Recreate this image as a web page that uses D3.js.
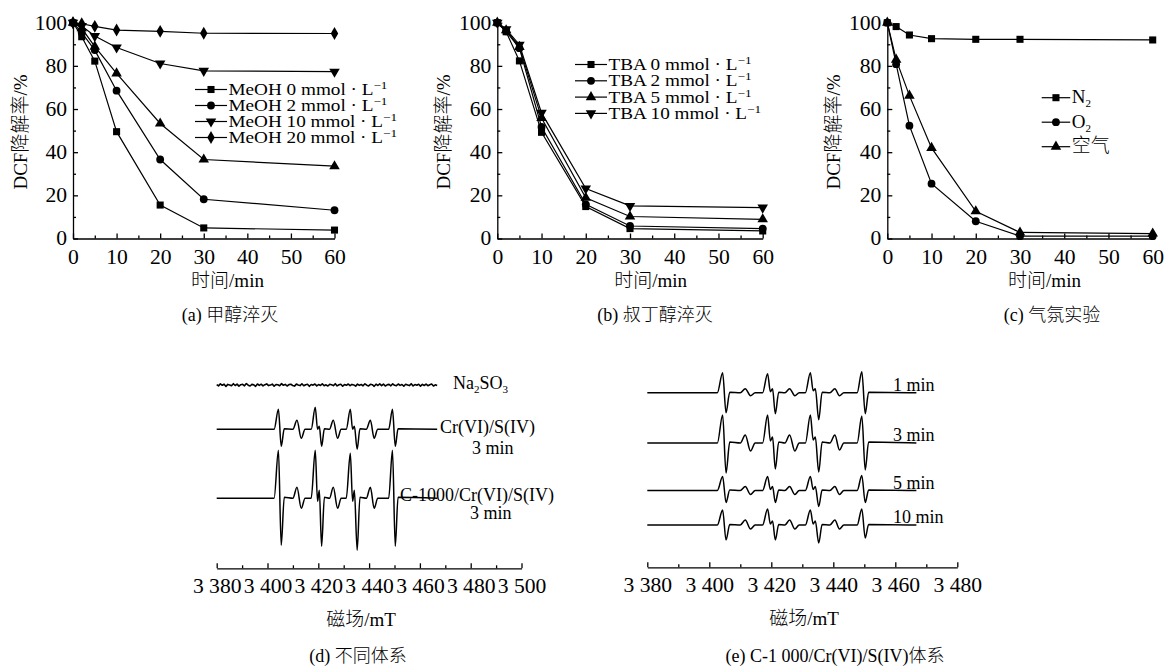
<!doctype html>
<html>
<head>
<meta charset="utf-8">
<style>
  body { margin: 0; background: #fff; }
  svg { display: block; }
  text { font-family: "Liberation Serif", "Noto Sans CJK SC", serif; fill: #000; font-weight: 300; }
  .axis path, .axis line { stroke: #000; stroke-width: 1.3; }
  .axis text { font-size: 20px; font-family: "Liberation Serif", serif; }
</style>
</head>
<body>
<svg id="fig" width="1165" height="668"></svg>
<script src="https://cdn.jsdelivr.net/npm/d3@7"></script>
<script>
// ---- data: degradation kinetics (time in min, DCF removal %) ----
var times = [0, 2, 5, 10, 20, 30, 60];

var meoh0  = [100, 93.5, 82.2, 49.5, 15.5, 4.9, 3.9];
var meoh2  = [100, 95.4, 87.3, 68.5, 36.6, 18.2, 13.1];
var meohX  = [100, 97.4, 88.9, 76.5, 53.3, 36.6, 33.5];   // up-triangle series, no legend entry
var meoh10 = [100, 98.5, 93.8, 88.5, 81.1, 77.7, 77.3];
var meoh20 = [100, 99.5, 98.3, 96.6, 96.0, 95.1, 95.0];
var meohLabels = ["MeOH 0 mmol · L", "MeOH 2 mmol · L", "MeOH 10 mmol · L", "MeOH 20 mmol · L"];

var tba0  = [100, 95.8, 82.3, 49.2, 14.8, 4.6, 3.5];
var tba2  = [100, 96.0, 88.2, 51.7, 15.8, 5.8, 4.6];
var tba5  = [100, 96.5, 88.8, 55.8, 18.9, 10.2, 8.9];
var tba10 = [100, 97.0, 89.8, 58.2, 23.2, 15.1, 14.3];
var tbaLabels = ["TBA 0 mmol · L", "TBA 2 mmol · L", "TBA 5 mmol · L", "TBA 10 mmol · L"];

var n2  = [100, 98.2, 94.3, 92.6, 92.3, 92.3, 92.0];
var o2  = [100, 80.8, 52.3, 25.4, 8.0, 1.1, 1.1];
var air = [100, 82.9, 66.2, 42.0, 12.6, 2.8, 2.3];

var timeTicks = [0, 10, 20, 30, 40, 50, 60];
var rateTicks = [0, 20, 40, 60, 80, 100];

// ---- data: EPR spectra (field in mT, intensity in a.u.) ----
var eprField = [
  3380, 3402.6, 3404.3, 3405.4, 3406.6,
  3410.0, 3411.6, 3413.3, 3414.8,
  3417.2, 3418.8, 3419.7, 3420.4, 3421.3, 3422.4,
  3424.4, 3425.9, 3427.6, 3429.0,
  3431.0, 3432.6, 3433.5, 3434.2, 3435.3, 3436.4,
  3438.9, 3440.5, 3442.0, 3443.4,
  3447.7, 3449.2, 3450.3, 3451.4, 3466.8
];
var eprCr    = [0, 0, 20, -17, 0.5, 0, 9, -9, 0, 0, 22, 0, 3, -17, 0.5, 0, 9, -9, 0, 0, 20, 0, 3, -20, 0.5, 0, 9, -9, 0, 0, 20, -17, 0.5, 0];
var eprC1000 = [0, 0, 48, -47, 1, 0, 11, -10, 0, 0, 48, -3, 8, -48, 1, 0, 11, -10, 0, 0, 45, -3, 8, -52, 1, 0, 11, -10, 0, 0, 48, -48, 1, 0];
var eprMin1  = [0, 0, 20, -20, 0.5, 0, 4, -3, 0, 0, 19, 1, 4, -21, 0.5, 0, 4, -3, 0, 0, 20, 2, 4, -27, 0.5, 0, 4, -3, 0, 0, 21, -21, 0.5, 0];
var eprMin3  = [0, 0, 28, -30, 1, 0, 8, -8, 0, 0, 28, 2, 6, -26, 1, 0, 8, -8, 0, 0, 28, 3, 6, -29, 1, 0, 8, -7, 0, 0, 27, -27, 1, 0];
var eprMin5  = [0, 0, 14, -12, 0.5, 0, 4, -4, 0, 0, 14, 1, 4, -12, 0.5, 0, 4, -4, 0, 0, 14, 1, 4, -16, 0.5, 0, 4, -4, 0, 0, 15, -12, 0.5, 0];
var eprMin10 = [0, 0, 15, -15, 0.5, 0, 5, -4, 0, 0, 16, 1, 4, -15, 0.5, 0, 5, -4, 0, 0, 15, 1, 4, -18, 0.5, 0, 5, -4, 0, 0, 16, -13, 0.5, 0];
var na2so3Noise = [
  0.4, -0.9, 1.2, -0.3, 0.8, -1.4, 0.6, 0.1, -0.7, 1.3, -0.5, 0.9, -1.1, 0.3, 0.7, -0.8, 1.5, -0.2, -1.0, 0.6,
  0.2, -1.3, 1.0, -0.4, 0.8, -0.9, 0.3, 1.1, -0.6, -0.1, 0.9, -1.2, 0.5, 0.2, -0.7, 1.4, -0.3, 0.6, -1.0, 0.4,
  0.8, -0.5, -1.1, 0.9, 0.1, -0.6, 1.2, -0.8, 0.3, 0.7, -1.3, 0.5, -0.2, 1.0, -0.9, 0.4, -0.4, 1.1, -0.7, 0.2,
  -1.0, 0.7, 0.3, -0.6, 1.3, -0.9, 0.2, 0.8, -1.2, 0.4, -0.3, 1.0, -0.7, 0.6, 0.1, -1.1, 0.9, -0.4, 0.5, -0.8,
  1.2, -0.2, -0.9, 0.7, 0.3, -1.3, 0.8, -0.5, 1.1, -0.6, 0.9, -1.0, 0.2, 0.6, -0.8, 1.1, -0.3, -0.7, 1.0, -0.4,
  0.5, -1.2, 0.8, 0.1, -0.6, 1.3, -0.9, 0.4, -0.2, 0.7, -1.1, 0.6, -0.5, 0.9, -0.7, 0.3, 1.0, -1.0, 0.2, -0.4
];
var fieldTicksD = [3380, 3400, 3420, 3440, 3460, 3480, 3500];
var fieldTicksE = [3380, 3400, 3420, 3440, 3460, 3480];

var svg = d3.select("#fig");
svg.append("rect").attr("width", 1165).attr("height", 668).attr("fill", "#fff");

var symSquare = d3.symbol().type(d3.symbolSquare).size(50);
var symCircle = d3.symbol().type(d3.symbolCircle).size(48);
var symTri    = d3.symbol().type(d3.symbolTriangle).size(48);
var symDiam   = d3.symbol().type(d3.symbolDiamond).size(48);
var shapes = {
  square: { path: symSquare(), rot: 0 },
  circle: { path: symCircle(), rot: 0 },
  up:     { path: symTri(), rot: 0 },
  down:   { path: symTri(), rot: 180 },
  diamond:{ path: symDiam(), rot: 0 }
};

function marker(g, shape, x, y) {
  g.append("path").attr("d", shapes[shape].path)
    .attr("transform", "translate(" + x + "," + y + ") rotate(" + shapes[shape].rot + ")")
    .attr("fill", "#000");
}

function fmtField(d) { return String(d).replace(/(\d)(\d{3})$/, "$1 $2"); }

// widen tick labels a little, the source font is broader than Times
function widen(sel) { sel.selectAll(".tick text").attr("transform", "scale(1.08,1)"); }

function kinetics(cfg) {
  var x = d3.scaleLinear().domain([0, 60]).range([cfg.x0, cfg.x1]);
  var y = d3.scaleLinear().domain([0, 100]).range([238.5, 22.7]);
  var g = svg.append("g");

  g.append("g").attr("class", "axis").attr("transform", "translate(0,238.5)")
    .call(d3.axisBottom(x).tickValues(timeTicks).tickSizeInner(-5).tickSizeOuter(0).tickPadding(11))
    .call(widen);
  g.append("g").attr("class", "axis").attr("transform", "translate(0,238.5)")
    .call(d3.axisBottom(x).tickValues([5, 15, 25, 35, 45, 55]).tickSizeInner(-3).tickSizeOuter(0).tickFormat(""))
    .select(".domain").remove();
  g.append("g").attr("class", "axis").attr("transform", "translate(" + cfg.x0 + ",0)")
    .call(d3.axisLeft(y).tickValues(rateTicks).tickSizeInner(-5).tickSizeOuter(0).tickPadding(5.5))
    .call(widen);
  g.append("g").attr("class", "axis").attr("transform", "translate(" + cfg.x0 + ",0)")
    .call(d3.axisLeft(y).tickValues([10, 30, 50, 70, 90]).tickSizeInner(-3).tickSizeOuter(0).tickFormat(""))
    .select(".domain").remove();

  var line = d3.line().x(function(d) { return x(d[0]); }).y(function(d) { return y(d[1]); });
  cfg.series.forEach(function(s) {
    var pts = times.map(function(t, i) { return [t, s.values[i]]; });
    g.append("path").attr("d", line(pts)).attr("fill", "none").attr("stroke", "#000").attr("stroke-width", 1.2);
    pts.forEach(function(p) { marker(g, s.shape, x(p[0]), y(p[1])); });
  });

  // legend
  cfg.legend.forEach(function(l, i) {
    var ly = cfg.ly + i * cfg.lstep;
    g.append("line").attr("x1", cfg.lx).attr("x2", cfg.lx + cfg.lw).attr("y1", ly).attr("y2", ly)
      .attr("stroke", "#000").attr("stroke-width", 1.2);
    marker(g, l.shape, cfg.lx + cfg.lw / 2, ly);
    var t = g.append("g").attr("transform", "translate(" + (cfg.lx + cfg.lw + 1.5) + "," + (ly + 5.5) + ") scale(" + cfg.lscale + ",1)")
      .append("text").attr("font-size", cfg.lfont);
    t.append("tspan").text(l.text);
    if (l.sup) t.append("tspan").attr("dy", -6).attr("font-size", 11).text(l.sup);
    if (l.sub) t.append("tspan").attr("dy", 4).attr("font-size", 11).text(l.sub);
  });

  g.append("text").attr("transform", "translate(" + cfg.yt + ",132) rotate(-90)")
    .attr("text-anchor", "middle").attr("dominant-baseline", "central").attr("font-size", 19)
    .text("DCF降解率/%");
  g.append("text").attr("x", cfg.xt).attr("y", 280).attr("text-anchor", "middle")
    .attr("dominant-baseline", "central").attr("font-size", 19).text("时间/min");
  g.append("text").attr("x", cfg.ct).attr("y", 315).attr("text-anchor", "middle")
    .attr("dominant-baseline", "central").attr("font-size", 18).text(cfg.caption);
}

kinetics({
  x0: 73, x1: 334.5, yt: 20, xt: 227.5, ct: 230, caption: "(a) 甲醇淬灭",
  series: [
    { values: meoh0, shape: "square" }, { values: meoh2, shape: "circle" },
    { values: meohX, shape: "up" }, { values: meoh10, shape: "down" }, { values: meoh20, shape: "diamond" }
  ],
  lx: 195, lw: 32, ly: 89.5, lstep: 16, lfont: 16, lscale: 1.2,
  legend: [
    { shape: "square", text: meohLabels[0], sup: "−1" }, { shape: "circle", text: meohLabels[1], sup: "−1" },
    { shape: "down", text: meohLabels[2], sup: "−1" }, { shape: "diamond", text: meohLabels[3], sup: "−1" }
  ]
});

kinetics({
  x0: 497.3, x1: 762.7, yt: 443, xt: 650.7, ct: 655, caption: "(b) 叔丁醇淬灭",
  series: [
    { values: tba0, shape: "square" }, { values: tba2, shape: "circle" },
    { values: tba5, shape: "up" }, { values: tba10, shape: "down" }
  ],
  lx: 575, lw: 32, ly: 64.5, lstep: 16.3, lfont: 16, lscale: 1.2,
  legend: [
    { shape: "square", text: tbaLabels[0], sup: "−1" }, { shape: "circle", text: tbaLabels[1], sup: "−1" },
    { shape: "up", text: tbaLabels[2], sup: "−1" }, { shape: "down", text: tbaLabels[3], sup: "−1" }
  ]
});

kinetics({
  x0: 887.3, x1: 1152.7, yt: 833, xt: 1044.5, ct: 1052, caption: "(c) 气氛实验",
  series: [
    { values: n2, shape: "square" }, { values: o2, shape: "circle" }, { values: air, shape: "up" }
  ],
  lx: 1041.7, lw: 28.5, ly: 97.7, lstep: 24.5, lfont: 19, lscale: 1,
  legend: [
    { shape: "square", text: "N", sub: "2" }, { shape: "circle", text: "O", sub: "2" }, { shape: "up", text: "空气" }
  ]
});

// ---- EPR panels ----
function eprPanel(cfg) {
  var x = d3.scaleLinear().domain(cfg.domain).range(cfg.range);
  var y = d3.scaleLinear().domain([0, 1]).range([0, -1]);
  var g = svg.append("g");
  var minor = cfg.ticks.slice(0, -1).map(function(d) { return d + 10; });

  g.append("g").attr("class", "axis").attr("transform", "translate(0," + cfg.axisY + ")")
    .call(d3.axisBottom(x).tickValues(cfg.ticks).tickSizeInner(-5).tickSizeOuter(0).tickPadding(11).tickFormat(fmtField))
    .call(widen);
  g.append("g").attr("class", "axis").attr("transform", "translate(0," + cfg.axisY + ")")
    .call(d3.axisBottom(x).tickValues(minor).tickSizeInner(-3).tickSizeOuter(0).tickFormat(""))
    .select(".domain").remove();

  var smooth = d3.line().x(function(d) { return x(d[0]); }).y(function(d) { return y(d[1]); })
    .curve(d3.curveMonotoneX);
  var jagged = d3.line().x(function(d) { return x(d[0]); }).y(function(d) { return y(d[1]); });
  cfg.traces.forEach(function(tr) {
    var pts, path;
    if (tr.noise) {
      var idx = d3.scaleLinear().domain([0, tr.noise.length - 1]).range([3380, 3466.8]);
      pts = tr.noise.map(function(v, i) { return [idx(i), v]; });
      path = jagged(pts);
    } else {
      pts = eprField.map(function(f, i) { return [f, tr.values[i]]; });
      path = smooth(pts);
    }
    g.append("path").attr("d", path).attr("transform", "translate(0," + tr.base + ")")
      .attr("fill", "none").attr("stroke", "#000").attr("stroke-width", tr.noise ? 1.6 : 1.5)
      .attr("stroke-linejoin", "round");
  });

  cfg.labels.forEach(function(l) {
    var t = g.append("text").attr("x", l.x).attr("y", l.y).attr("font-size", 18);
    l.parts.forEach(function(p) {
      if (p[1] === "sub") t.append("tspan").attr("dy", 4).attr("font-size", 11).text(p[0]);
      else t.append("tspan").attr("dy", p[2] || 0).text(p[0]);
    });
  });

  g.append("text").attr("x", cfg.xt).attr("y", cfg.axisY + 51).attr("text-anchor", "middle")
    .attr("dominant-baseline", "central").attr("font-size", 19).text("磁场/mT");
  g.append("text").attr("x", cfg.ct).attr("y", 656).attr("text-anchor", "middle")
    .attr("dominant-baseline", "central").attr("font-size", 18).text(cfg.caption);
}

eprPanel({
  domain: [3380, 3500], range: [216.7, 521.5], axisY: 568.3, ticks: fieldTicksD,
  xt: 361, ct: 358, caption: "(d) 不同体系",
  traces: [
    { noise: na2so3Noise, base: 385 },
    { values: eprCr, base: 429.3 },
    { values: eprC1000, base: 498.3 }
  ],
  labels: [
    { x: 453, y: 389, parts: [["Na"], ["2", "sub"], ["SO", "", -4], ["3", "sub"]] },
    { x: 440, y: 433, parts: [["Cr(VI)/S(IV)"]] },
    { x: 472, y: 454, parts: [["3 min"]] },
    { x: 400, y: 501, parts: [["C-1000/Cr(VI)/S(IV)"]] },
    { x: 470, y: 519, parts: [["3 min"]] }
  ]
});

eprPanel({
  domain: [3380, 3480], range: [647.3, 957.3], axisY: 567.3, ticks: fieldTicksE,
  xt: 804, ct: 835, caption: "(e) C-1 000/Cr(VI)/S(IV)体系",
  traces: [
    { values: eprMin1, base: 392.7 },
    { values: eprMin3, base: 443 },
    { values: eprMin5, base: 490.5 },
    { values: eprMin10, base: 525 }
  ],
  labels: [
    { x: 893, y: 391, parts: [["1 min"]] },
    { x: 893, y: 441, parts: [["3 min"]] },
    { x: 893, y: 489, parts: [["5 min"]] },
    { x: 893, y: 523, parts: [["10 min"]] }
  ]
});
</script>
</body>
</html>
